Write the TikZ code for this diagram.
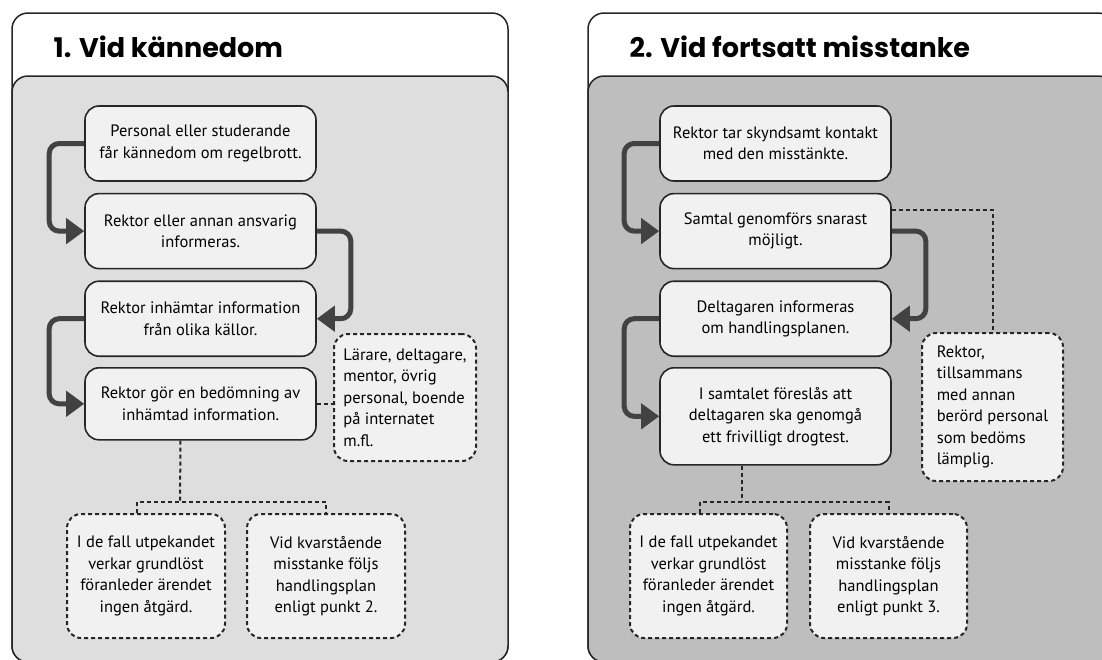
\documentclass[tikz,border=0pt]{standalone}
\usepackage{fontspec}
\setmainfont{PT Sans}
\newfontfamily\headfont{Poppins}
\usepackage{tikz}
\usetikzlibrary{positioning, arrows.meta}
\definecolor{panelA}{RGB}{222,222,222}
\definecolor{panelB}{RGB}{190,190,190}
\definecolor{boxfill}{RGB}{241,241,241}
\definecolor{inkline}{RGB}{38,38,38}
\definecolor{arrowgrey}{RGB}{66,66,66}
\begin{document}
\begin{tikzpicture}[x=1pt, y=-1pt, thick,
    stepbox/.style={draw=inkline, line width=1.6pt, fill=boxfill, rounded corners=14pt, minimum width=231pt, minimum height=75pt, align=center, inner sep=0pt, font=\fontsize{16.5}{21.5}\selectfont},
    notebox/.style={stepbox, dash pattern=on 4pt off 3pt, line width=2pt},
    panel/.style={draw=inkline, line width=1.5pt, rounded corners=16pt},
    head/.style={anchor=base west, font=\headfont\bfseries\fontsize{27}{30}\selectfont},
    flow/.style={draw=arrowgrey, line width=5pt, rounded corners=10pt, -{Triangle[length=18pt,width=25pt]}},
    noteline/.style={draw=inkline, line width=2pt, dash pattern=on 4pt off 3pt}]
            \useasboundingbox (0,0) rectangle (1102,659);
            \draw[panel, fill=white] (12,13) rectangle (508,662);
            \draw[panel, fill=panelA] (12,76) rectangle (508,662);
            \draw[panel, fill=white] (588,13) rectangle (1114,662);
            \draw[panel, fill=panelB] (588,76) rectangle (1114,662);
            \node[head] (headK) at (50,57) {1. Vid kännedom};
            \node[head] (headM) at (626,57) {2. Vid fortsatt misstanke};

            \node[stepbox] (kb1) at (200.5,143.5) {Personal eller studerande\\får kännedom om regelbrott.};
            \node[stepbox, below=11pt of kb1] (kb2) {Rektor eller annan ansvarig\\informeras.};
            \node[stepbox, below=11pt of kb2] (kb3) {Rektor inhämtar information\\från olika källor.};
            \node[stepbox, below=10pt of kb3, minimum height=72pt] (kb4) {Rektor gör en bedömning av\\inhämtad information.};
            \node[notebox, anchor=north west, minimum width=142pt, minimum height=127pt, align=left] (kn) at (333,333) {Lärare, deltagare,\\mentor, övrig\\personal, boende\\på internatet\\m.fl.};
            \node[notebox, minimum width=158pt, minimum height=124pt] (ka) at (146,576) {I de fall utpekandet\\verkar grundlöst\\föranleder ärendet\\ingen åtgärd.};
            \node[notebox, minimum width=158pt, minimum height=124pt, right=20pt of ka] (kv) {Vid kvarstående\\misstanke följs\\handlingsplan\\enligt punkt 2.};
            \draw[flow] (kb1.west) -- ++(-35,0) |- (kb2.west);
            \draw[flow] (kb2.east) -- ++(34,0) |- (kb3.east);
            \draw[flow] (kb3.west) -- ++(-35,0) |- (kb4.west);
            \draw[noteline] (kb4.east) -- (kb4.east -| kn.west);
            \coordinate (kj) at (180,502);
            \draw[noteline] ([xshift=-20pt]kb4.south) -- (kj);
            \draw[noteline] ([xshift=-9pt]ka.north) |- (kj) -| (kv.north);

            \node[stepbox] (mb1) at (775.5,143.5) {Rektor tar skyndsamt kontakt\\med den misstänkte.};
            \node[stepbox, below=11pt of mb1] (mb2) {Samtal genomförs snarast\\möjligt.};
            \node[stepbox, below=11pt of mb2] (mb3) {Deltagaren informeras\\om handlingsplanen.};
            \node[stepbox, below=10pt of mb3, minimum height=97pt] (mb4) {I samtalet föreslås att\\deltagaren ska genomgå\\ett frivilligt drogtest.};
            \node[notebox, anchor=north west, minimum width=141pt, minimum height=148pt, align=left] (mn) at (921,332) {Rektor,\\tillsammans\\med annan\\berörd personal\\som bedöms\\lämplig.};
            \node[notebox, minimum width=157pt, minimum height=124pt] (ma) at (708.5,576) {I de fall utpekandet\\verkar grundlöst\\föranleder ärendet\\ingen åtgärd.};
            \node[notebox, minimum width=157pt, minimum height=124pt, right=21pt of ma] (mv) {Vid kvarstående\\misstanke följs\\handlingsplan\\enligt punkt 3.};
            \draw[flow] (mb1.west) -- ++(-35,0) |- (mb2.west);
            \draw[flow] (mb2.east) -- ++(34,0) |- (mb3.east);
            \draw[flow] (mb3.west) -- ++(-35,0) |- (mb4.west);
            \draw[noteline] ([yshift=-17pt]mb2.north east) -| (mn.north);
            \coordinate (mj) at (742,502);
            \draw[noteline] ([xshift=-33.5pt]mb4.south) -- (mj);
            \draw[noteline] ([xshift=-8.5pt]ma.north) |- (mj) -| (mv.north);
        \end{tikzpicture}
\end{document}
